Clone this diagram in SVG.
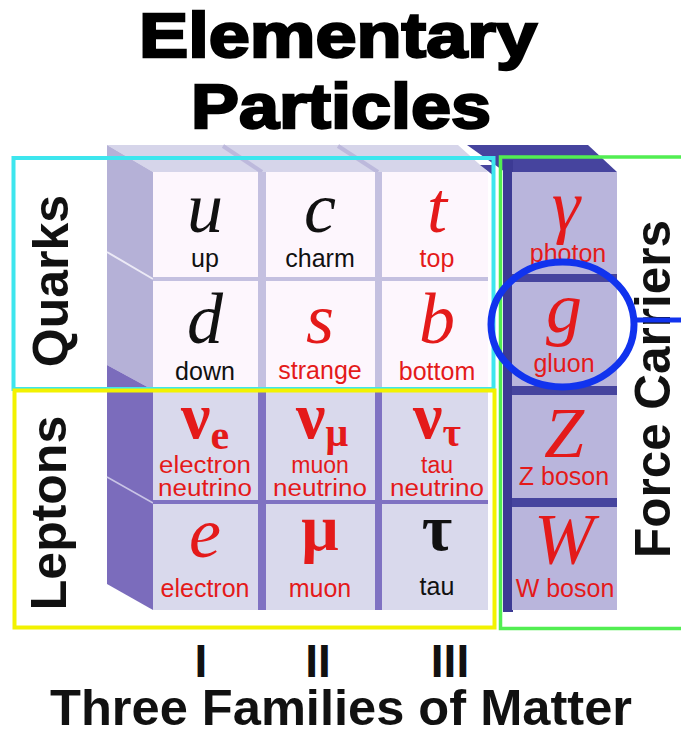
<svg xmlns="http://www.w3.org/2000/svg" width="681" height="735" viewBox="0 0 681 735">
<style>
.title{font-family:"Liberation Sans",Arial,sans-serif;font-weight:bold;font-size:63px;fill:#000;stroke:#000;stroke-width:2.4;text-anchor:middle}
.side{font-family:"Liberation Sans",Arial,sans-serif;font-weight:bold;font-size:50px;fill:#111;text-anchor:middle}
.bot{font-family:"Liberation Sans",Arial,sans-serif;font-weight:bold;fill:#111;text-anchor:middle}
.sym{font-family:"Liberation Serif","Times New Roman",serif;font-style:italic;font-size:72px;text-anchor:middle}
.gr{font-family:"Liberation Serif","Times New Roman",serif;font-weight:bold;font-size:66px;text-anchor:middle}
.lbl{font-family:"Liberation Sans",Arial,sans-serif;font-size:25px;text-anchor:middle}
.lbl2{font-family:"Liberation Sans",Arial,sans-serif;font-size:23px;text-anchor:middle}
.red{fill:#e41a1a}
.blk{fill:#111}
.qf{fill:#fdf6fd}
.lf{fill:#d9d9ec}
.ff{fill:#b9b5dc}
</style>

<!-- Title -->
<g id="title">
<text class="title" x="338" y="57" textLength="398" lengthAdjust="spacingAndGlyphs">Elementary</text>
<text class="title" x="341" y="128" textLength="300" lengthAdjust="spacingAndGlyphs">Particles</text>
</g>

<!-- 3D grid background -->
<g id="grid-body">
<polygon points="107,145 458,145 488,172 153,172" fill="#d6d5ea"/>
<line x1="223" y1="146" x2="262" y2="172" stroke="#bdb9dc" stroke-width="4"/>
<line x1="338" y1="146" x2="378" y2="172" stroke="#bdb9dc" stroke-width="4"/>
<polygon points="107,145 153,172 153,390 107,365" fill="#b5b1d7"/>
<line x1="107" y1="252" x2="153" y2="279" stroke="#eceaf6" stroke-width="2"/>
<polygon points="107,365 153,390 153,610 107,584" fill="#7b6cbc"/>
<line x1="107" y1="477" x2="153" y2="503" stroke="#c9c4e6" stroke-width="1.5"/>
<rect x="153" y="172" width="335" height="218" fill="#c4c0e0"/>
<rect x="153" y="390" width="335" height="220" fill="#7f72c2"/>
<polygon points="480,165 494,165 494,176" fill="#46449e"/>
</g>

<!-- Force carrier column body -->
<g id="force-body">
<polygon points="467,145 588,145 617,172 505,172" fill="#46449e"/>
<rect x="503" y="160" width="10" height="452" fill="#3c3a94"/>
<rect x="512" y="172" width="105" height="438" fill="#46449e"/>
</g>

<!-- Quarks -->
<g id="u"><rect class="qf" x="153" y="172" width="105" height="105"/>
<text class="sym blk" x="205" y="232">u</text><text class="lbl blk" x="205" y="267">up</text></g>
<g id="c"><rect class="qf" x="266" y="172" width="109" height="105"/>
<text class="sym blk" x="320" y="232">c</text><text class="lbl blk" x="320" y="267">charm</text></g>
<g id="t"><rect class="qf" x="382" y="172" width="106" height="105"/>
<text class="sym red" x="437" y="232">t</text><text class="lbl red" x="437" y="267">top</text></g>
<g id="d"><rect class="qf" x="153" y="281" width="105" height="108"/>
<text class="sym blk" x="205" y="343">d</text><text class="lbl blk" x="205" y="380">down</text></g>
<g id="s"><rect class="qf" x="266" y="281" width="109" height="108"/>
<text class="sym red" x="320" y="343">s</text><text class="lbl red" x="320" y="379">strange</text></g>
<g id="b"><rect class="qf" x="382" y="281" width="106" height="108"/>
<text class="sym red" x="437" y="343">b</text><text class="lbl red" x="437" y="380">bottom</text></g>

<!-- Leptons -->
<g id="nu_e"><rect class="lf" x="153" y="392" width="105" height="108"/>
<text class="gr red" x="205" y="438">ν<tspan font-size="42" dy="11">e</tspan></text>
<text class="lbl2 red" x="205" y="473" textLength="92" lengthAdjust="spacingAndGlyphs">electron</text><text class="lbl2 red" x="205" y="496" textLength="94" lengthAdjust="spacingAndGlyphs">neutrino</text></g>
<g id="nu_mu"><rect class="lf" x="266" y="392" width="109" height="108"/>
<text class="gr red" x="322" y="438">ν<tspan font-size="40" dy="8">μ</tspan></text>
<text class="lbl2 red" x="320" y="473">muon</text><text class="lbl2 red" x="320" y="496" textLength="94" lengthAdjust="spacingAndGlyphs">neutrino</text></g>
<g id="nu_tau"><rect class="lf" x="382" y="392" width="106" height="108"/>
<text class="gr red" x="437" y="438">ν<tspan font-size="40" dy="8">τ</tspan></text>
<text class="lbl2 red" x="437" y="473">tau</text><text class="lbl2 red" x="437" y="496" textLength="94" lengthAdjust="spacingAndGlyphs">neutrino</text></g>
<g id="e"><rect class="lf" x="153" y="504" width="105" height="106"/>
<text class="sym red" x="205" y="557">e</text><text class="lbl red" x="205" y="597">electron</text></g>
<g id="mu"><rect class="lf" x="266" y="504" width="109" height="106"/>
<text class="gr red" x="320" y="550">μ</text><text class="lbl red" x="320" y="597">muon</text></g>
<g id="tau"><rect class="lf" x="382" y="504" width="106" height="106"/>
<text class="gr blk" x="437" y="550">τ</text><text class="lbl blk" x="437" y="595">tau</text></g>

<!-- Force carriers -->
<g id="photon"><rect class="ff" x="512" y="172" width="105" height="102"/>
<text class="sym red" x="566" y="230" font-style="normal">γ</text><text class="lbl red" x="568" y="262">photon</text></g>
<g id="gluon"><rect class="ff" x="512" y="282" width="105" height="104"/>
<text class="sym red" x="564" y="332">g</text><text class="lbl red" x="564" y="372">gluon</text></g>
<g id="Z"><rect class="ff" x="512" y="395" width="105" height="103"/>
<text class="sym red" x="564" y="457">Z</text><text class="lbl red" x="564" y="485">Z boson</text></g>
<g id="W"><rect class="ff" x="512" y="507" width="105" height="103"/>
<text class="sym red" x="564" y="563">W</text><text class="lbl red" x="565" y="597">W boson</text></g>

<!-- Group frames -->
<g id="quarks-frame">
<rect x="13.5" y="158" width="480" height="231" fill="none" stroke="#3de6ee" stroke-width="4"/>
<text class="side" transform="translate(68,281) rotate(-90)">Quarks</text>
</g>
<g id="leptons-frame">
<rect x="14.5" y="390.5" width="480" height="237" fill="none" stroke="#f2f200" stroke-width="4"/>
<text class="side" transform="translate(66,513) rotate(-90)">Leptons</text>
</g>
<g id="force-frame">
<polyline points="683,157 500.5,157 500.5,628.5 683,628.5" fill="none" stroke="#52ee52" stroke-width="3.5"/>
<text class="side" transform="translate(670,389) rotate(-90)" textLength="338" lengthAdjust="spacingAndGlyphs">Force Carriers</text>
</g>

<!-- Bottom labels -->
<g id="families">
<text class="bot" x="201" y="677" font-size="46">I</text>
<text class="bot" x="318" y="677" font-size="46">II</text>
<text class="bot" x="450" y="677" font-size="46">III</text>
<text class="bot" x="341" y="725" font-size="50" textLength="582" lengthAdjust="spacingAndGlyphs">Three Families of Matter</text>
</g>

<!-- Highlight annotation -->
<g id="highlight">
<ellipse cx="562.5" cy="324.5" rx="71.5" ry="62.5" fill="none" stroke="#1133ee" stroke-width="7"/>
</g>
<g id="connectors">
<line x1="637" y1="320" x2="681" y2="320" stroke="#1133ee" stroke-width="5"/>
</g>
</svg>
